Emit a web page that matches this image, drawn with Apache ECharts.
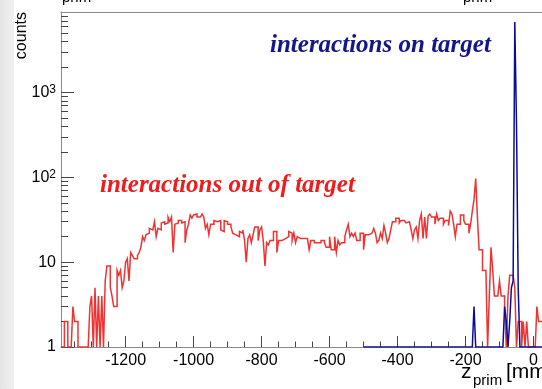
<!DOCTYPE html>
<html><head><meta charset="utf-8">
<script src="https://cdn.jsdelivr.net/npm/echarts@6/dist/echarts.min.js"></script>
<style>html,body{margin:0;padding:0;background:#fff}#c{width:542px;height:389px}</style>
</head><body><div id="c"></div>
<script>
// ---- data (5 mm bins) ----
const redStart = -1390;
const redWidth = 5;
const redCounts = [
  0,0,2,2,0,0,0,3,2,2,
  0,0,0,0,0,0,0,3,4,0,
  5,0,4,0,4,0,6,9,9,5,
  4,3,3,8,7,8,5,6,10,11,
  6,13,12,11,11,12,13,15,20,18,
  21,22,25,24,23,30,20,25,24,29,
  30,28,29,34,30,34,13,28,29,31,
  31,29,30,17,24,28,36,33,36,37,
  34,34,35,37,34,25,28,21,28,28,
  31,30,31,31,24,23,31,30,28,28,
  26,22,21,22,20,23,22,24,18,10,
  19,21,17,21,26,26,18,24,26,18,
  9,17,16,18,18,23,23,13,18,18,
  18,19,19,20,23,22,18,22,17,20,
  19,19,19,19,19,18,14,18,18,17,
  17,17,17,18,18,17,15,15,20,14,
  14,20,13,18,16,17,17,20,24,28,
  20,22,20,22,18,18,22,22,14,21,
  21,21,22,22,25,22,17,18,22,19,
  27,22,17,19,24,30,30,33,33,29,
  31,31,30,29,30,30,24,19,24,26,
  19,31,37,19,34,19,35,37,34,34,
  28,37,31,33,33,28,31,31,27,40,
  37,28,20,28,28,36,36,31,28,28,
  22,28,40,55,97,34,14,14,8,8,
  8,0,4,15,8,4,4,4,6,4,
  4,3,0,4,7,7,7,5,0,2,
  2,0,2,0,2,0,0,0,0,0,
  3,2,2
];
const blueStart = -500;
const blueWidth = 5;
const blueCounts = [
  0,0,0,0,0,0,0,0,0,0,
  0,0,0,0,0,0,0,0,0,0,
  0,0,0,0,0,0,0,0,0,0,
  0,0,0,0,0,0,0,0,0,0,
  0,0,0,0,0,0,0,0,0,0,
  0,0,0,0,0,0,0,0,0,0,
  0,0,0,0,0,3,0,0,0,0,
  0,0,0,0,0,0,0,0,0,0,
  0,0,0,3,2,0,2,5,6,6800,
  430,5,0,0,0,0,0,0,0,0,
  0,0,0,0,0
];
const xMin = -1390, xMax = 25;
const yMin = 1, yMax = 8900;
const xMajorTicks = [-1200,-1000,-800,-600,-400,-200,0];
const xMinorTicks = [-1350,-1300,-1250,-1200,-1150,-1100,-1050,-1000,-950,-900,-850,-800,-750,-700,-650,-600,-550,-500,-450,-400,-350,-300,-250,-200,-150,-100,-50,0];
const yMajorTicks = [1,10,100,1000];
const yTickLabels = ['1','10','10{sup|2}','10{sup|3}'];
const yMinorTicks = [2,3,4,5,6,7,8,9,20,30,40,50,60,70,80,90,200,300,400,500,600,700,800,900,2000,3000,4000,5000,6000,7000,8000];
const yTitle = 'counts';
const redLabel = 'interactions out of target';
const blueLabel = 'interactions on target';

// histogram outline: each bin contributes its left and right edge at its count
function histPoints(start, width, counts) {
  const pts = [];
  counts.forEach((c, i) => {
    const v = Math.max(c, yMin);
    pts.push([start + i * width, v]);
    pts.push([start + (i + 1) * width, v]);
  });
  return pts;
}

const SANS = '"Liberation Sans", Arial, sans-serif';
const SERIF = '"Liberation Serif", "Times New Roman", serif';
const chart = echarts.init(document.getElementById('c'), null, {renderer: 'canvas'});
const axisCol = '#8a8a8a', tickCol = '#444';
chart.setOption({
  animation: false,
  backgroundColor: '#fff',
  grid: {left: 61, right: 0, top: 12, bottom: 42, containLabel: false, outerBoundsMode: 'none'},
  xAxis: [
    {type: 'value', min: xMin, max: xMax, position: 'bottom',
     axisLine: {show: true, onZero: false, lineStyle: {color: axisCol, width: 1}},
     axisTick: {show: true, inside: true, length: 11, customValues: xMajorTicks, lineStyle: {color: tickCol}},
     axisLabel: {show: true, customValues: xMajorTicks, fontSize: 16, fontFamily: SANS, color: '#000', margin: 6,
       formatter: function (v) { return String(v); }},
     splitLine: {show: false}},
    {type: 'value', min: xMin, max: xMax, position: 'bottom',
     axisLine: {show: false, onZero: false},
     axisTick: {show: true, inside: true, length: 5.5, customValues: xMinorTicks, lineStyle: {color: tickCol}},
     axisLabel: {show: false}, splitLine: {show: false}},
    {type: 'value', min: xMin, max: xMax, position: 'top',
     axisLine: {show: true, onZero: false, lineStyle: {color: axisCol, width: 1}},
     axisTick: {show: false}, axisLabel: {show: false}, splitLine: {show: false}}
  ],
  yAxis: [
    {type: 'log', logBase: 10, min: yMin, max: yMax, position: 'left',
     axisLine: {show: true, onZero: false, lineStyle: {color: axisCol, width: 1}},
     axisTick: {show: true, inside: true, length: 13, customValues: yMajorTicks, lineStyle: {color: tickCol}},
     axisLabel: {show: true, customValues: yMajorTicks, fontSize: 16, fontFamily: SANS, color: '#000', margin: 5,
       formatter: function (v) { const k = yMajorTicks.indexOf(v); return k >= 0 ? yTickLabels[k] : ''; },
       rich: {sup: {fontSize: 12, fontFamily: SANS, color: '#000', verticalAlign: 'top', padding: [0, 0, 6, 0]}}},
     splitLine: {show: false}},
    {type: 'log', logBase: 10, min: yMin, max: yMax, position: 'left',
     axisLine: {show: false, onZero: false},
     axisTick: {show: true, inside: true, length: 7, customValues: yMinorTicks, lineStyle: {color: tickCol}},
     axisLabel: {show: false}, splitLine: {show: false}}
  ],
  series: [
    {type: 'line', name: redLabel, xAxisIndex: 0, yAxisIndex: 0, symbol: 'none', sampling: null,
     data: histPoints(redStart, redWidth, redCounts),
     lineStyle: {color: '#ee3333', width: 1.5, join: 'miter'}, clip: true, z: 3},
    {type: 'line', name: blueLabel, xAxisIndex: 0, yAxisIndex: 0, symbol: 'none', sampling: null,
     data: histPoints(blueStart, blueWidth, blueCounts),
     lineStyle: {color: '#0c0c96', width: 1.5, join: 'miter'}, clip: true, z: 4}
  ],
  graphic: [
    {type: 'rect', z: -10, shape: {x: 0, y: 0, width: 14, height: 389},
     style: {fill: new echarts.graphic.LinearGradient(0, 0, 1, 0, [{offset: 0, color: '#e4e4e4'}, {offset: 1, color: '#f1f1f1'}])}},
    {type: 'text', x: 30, y: 12, rotation: Math.PI / 2,
     style: {text: yTitle, font: '16px ' + SANS, fill: '#000', align: 'right', verticalAlign: 'bottom'}},
    {type: 'text', x: 100, y: 173,
     style: {text: redLabel, font: 'italic bold 25px ' + SERIF, fill: '#ee1c1c', align: 'left', verticalAlign: 'top'}},
    {type: 'text', x: 270, y: 33,
     style: {text: blueLabel, font: 'italic bold 25px ' + SERIF, fill: '#14148c', align: 'left', verticalAlign: 'top'}},
    {type: 'text', x: 461, y: 362,
     style: {text: 'z', font: '21px ' + SANS, fill: '#000', align: 'left', verticalAlign: 'top'}},
    {type: 'text', x: 473, y: 373,
     style: {text: 'prim', font: '15px ' + SANS, fill: '#000', align: 'left', verticalAlign: 'top'}},
    {type: 'text', x: 506, y: 362,
     style: {text: '[mm]', font: '21px ' + SANS, fill: '#000', align: 'left', verticalAlign: 'top'}},
    {type: 'text', x: 62, y: -10,
     style: {text: 'prim', font: '15px ' + SANS, fill: '#000', align: 'left', verticalAlign: 'top'}},
    {type: 'text', x: 463, y: -10,
     style: {text: 'prim -', font: '15px ' + SANS, fill: '#000', align: 'left', verticalAlign: 'top'}}
  ]
});
</script></body></html>
